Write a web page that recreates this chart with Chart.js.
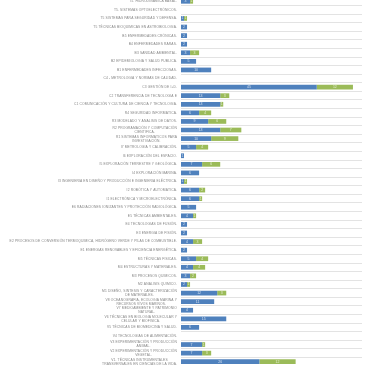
<!DOCTYPE html>
<html>
<head>
<meta charset="utf-8">
<script src="https://cdn.jsdelivr.net/npm/chart.js@4"></script>
<style>
  html, body { margin: 0; padding: 0; background: #fff; overflow: hidden; }
  #wrap { position: absolute; left: 0; top: -3px; width: 375px; height: 369px; }
</style>
</head>
<body>
<div id="wrap"><canvas id="chart"></canvas></div>
<script>
// categorías (de arriba a abajo)
const categorias = [
  'T5. HIDRODINÁMICA BASAL.',
  'T5. SISTEMAS OPTOELECTRÓNICOS.',
  'T5 SISTEMAS PARA SEGURIDAD Y DEFENSA.',
  'T5 TÉCNICAS BIOQUÍMICAS EN ASTROBIOLOGÍA.',
  'B5 ENFERMEDADES CRÓNICAS.',
  'B4 ENFERMEDADES RARAS.',
  'B3 SANIDAD AMBIENTAL.',
  'B2 EPIDEMIOLOGÍA Y SALUD PÚBLICA.',
  'B1 ENFERMEDADES INFECCIOSAS.',
  'C4 - METROLOGÍA Y NORMAS DE CALIDAD.',
  'C3 GESTIÓN DE I+D.',
  'C2 TRANSFERENCIA DE TECNOLOGÍA E',
  'C1 COMUNICACIÓN Y CULTURA DE CIENCIA Y TECNOLOGÍA.',
  'R4 SEGURIDAD INFORMÁTICA.',
  'R3 MODELADO Y ANÁLISIS DE DATOS.',
  ['R2 PROGRAMACIÓN Y COMPUTACIÓN', 'CIENTÍFICA.'],
  ['R1 SISTEMAS INFORMÁTICOS PARA', 'INVESTIGACIÓN.'],
  'I7 METROLOGÍA Y CALIBRACIÓN.',
  'I6 EXPLORACIÓN DEL ESPACIO.',
  'I5 EXPLORACIÓN TERRESTRE Y GEOLÓGICA.',
  'I4 EXPLORACIÓN MARINA.',
  'I3 INGENIERÍA EN DISEÑO Y PRODUCCIÓN E INGENIERÍA ELÉCTRICA.',
  'I2 ROBÓTICA Y AUTOMÁTICA.',
  'I1 ELECTRÓNICA Y MICROELECTRÓNICA.',
  'E6 RADIACIONES IONIZANTES Y PROTECCIÓN RADIOLÓGICA.',
  'E5 TÉCNICAS AMBIENTALES.',
  'E4 TECNOLOGÍAS DE FUSIÓN.',
  'E3 ENERGÍA DE FISIÓN.',
  'E2 PROCESOS DE CONVERSIÓN TERMOQUÍMICA, HIDRÓGENO VERDE Y PILAS DE COMBUSTIBLE.',
  'E1 ENERGÍAS RENOVABLES Y EFICIENCIA ENERGÉTICA.',
  'M5 TÉCNICAS FÍSICAS.',
  'M4 ESTRUCTURAS Y MATERIALES.',
  'M3 PROCESOS QUÍMICOS.',
  'M2 ANÁLISIS QUÍMICO.',
  ['M1 DISEÑO, SÍNTESIS Y CARACTERIZACIÓN', 'DE MATERIALES.'],
  ['V8 OCEANOGRAFÍA, ECOLOGÍA MARINA Y', 'RECURSOS VIVOS MARINOS.'],
  ['V7 MEDIOAMBIENTE Y PATRIMONIO', 'NATURAL.'],
  ['V6 TÉCNICAS EN BIOLOGÍA MOLECULAR Y', 'CELULAR Y BIOFÍSICA.'],
  'V5 TÉCNICAS DE BIOMEDICINA Y SALUD.',
  'V4 TECNOLOGÍAS DE ALIMENTACIÓN.',
  ['V3 EXPERIMENTACIÓN Y PRODUCCIÓN', 'ANIMAL.'],
  ['V2 EXPERIMENTACIÓN Y PRODUCCIÓN', 'VEGETAL.'],
  ['V1. TÉCNICAS INSTRUMENTALES', 'TRANSVERSALES EN CIENCIAS DE LA VIDA.']
]

// serie azul y serie verde, mismo orden que categorias
const serieAzul = [3, 0, 1, 2, 2, 2, 3, 5, 10, 0, 45, 13, 13, 6, 9, 13, 10, 5, 1, 7, 6, 1, 6, 6, 5, 4, 2, 2, 4, 2, 5, 4, 3, 2, 12, 11, 4, 15, 6, 0, 7, 7, 26]
const serieVerde = [1, 0, 1, 0, 0, 0, 3, 0, 0, 0, 12, 3, 1, 4, 6, 7, 9, 4, 0, 6, 0, 1, 2, 1, 0, 1, 0, 0, 3, 0, 4, 4, 2, 1, 3, 0, 0, 0, 0, 0, 1, 3, 12]

const ejeMax = 60

// etiquetas del eje: bloque alineado a la derecha, líneas centradas
const etiquetasEje = {
  id: 'etiquetasEje',
  afterDraw(chart) {
    const ctx = chart.ctx
    const escala = chart.scales.y
    const derecha = chart.chartArea.left - 4
    ctx.save()
    ctx.font = '3.3px "Liberation Sans", Arial, sans-serif'
    ctx.letterSpacing = '0.12px'
    ctx.fillStyle = '#858585'
    ctx.textAlign = 'center'
    ctx.textBaseline = 'middle'
    categorias.forEach((lab, i) => {
      const lineas = Array.isArray(lab) ? lab : [lab]
      const ancho = Math.max(...lineas.map(l => ctx.measureText(l).width))
      const cx = derecha - ancho / 2
      const cy = escala.getPixelForTick(i)
      lineas.forEach((l, j) => {
        ctx.fillText(l, cx, cy + (j - (lineas.length - 1) / 2) * 4)
      })
    })
    ctx.restore()
  }
}

// valores dentro de las barras
const valoresBarras = {
  id: 'valoresBarras',
  afterDatasetsDraw(chart) {
    const ctx = chart.ctx
    ctx.save()
    ctx.font = '3.5px "Liberation Sans", Arial, sans-serif'
    ctx.fillStyle = 'rgba(255,255,255,0.75)'
    ctx.textAlign = 'center'
    ctx.textBaseline = 'middle'
    chart.data.datasets.forEach((ds, di) => {
      chart.getDatasetMeta(di).data.forEach((barra, i) => {
        if (!ds.data[i]) return
        ctx.fillText(String(ds.data[i]), (barra.x + barra.base) / 2, barra.y)
      })
    })
    ctx.restore()
  }
}

new Chart(document.getElementById('chart'), {
  type: 'bar',
  data: {
    labels: categorias,
    datasets: [
      { label: 'Serie 1', data: serieAzul, backgroundColor: '#4f81bd', categoryPercentage: 1, barPercentage: 0.55 },
      { label: 'Serie 2', data: serieVerde, backgroundColor: '#9bbb59', categoryPercentage: 1, barPercentage: 0.55 }
    ]
  },
  options: {
    indexAxis: 'y',
    responsive: true,
    maintainAspectRatio: false,
    animation: false,
    layout: { padding: { left: 0, right: 13, top: 0, bottom: 0 } },
    plugins: { legend: { display: false }, tooltip: { enabled: false } },
    scales: {
      x: { stacked: true, min: 0, max: ejeMax, display: false },
      y: {
        stacked: true,
        border: { display: false },
        grid: { color: '#e3e3e3', lineWidth: 1, drawTicks: false },
        ticks: { display: false },
        afterFit(scale) { scale.width = 181 }
      }
    }
  },
  plugins: [etiquetasEje, valoresBarras]
})
</script>
</body>
</html>
